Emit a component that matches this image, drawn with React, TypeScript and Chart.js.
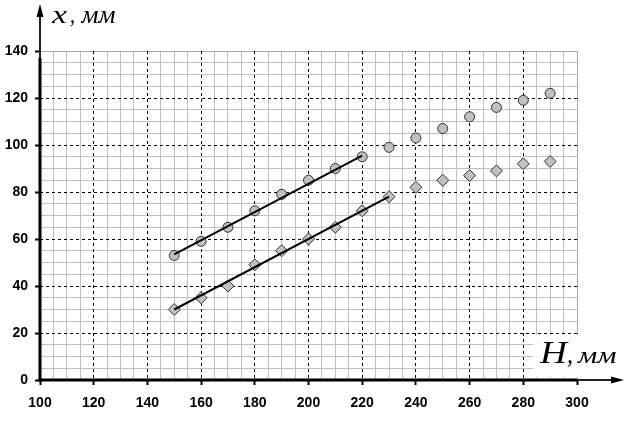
import React, { useEffect, useRef } from "react";
import { Chart, registerables } from "chart.js";

Chart.register(...registerables);

// ---- data ----
const H: number[] = [150, 160, 170, 180, 190, 200, 210, 220, 230, 240, 250, 260, 270, 280, 290];
const xCircles: number[] = [53, 59, 65, 72, 79, 85, 90, 95, 99, 103, 107, 112, 116, 119, 122];
const xDiamonds: number[] = [30, 35, 40, 49, 55, 60, 65, 72, 78, 82, 85, 87, 89, 92, 93];
const fitCirclesH: number[] = [150, 220];
const fitCirclesX: number[] = [53.5, 95.5];
const fitDiamondsH: number[] = [150, 230];
const fitDiamondsX: number[] = [30, 78];

const X_MIN = 100, X_MAX = 300, X_MAJOR = 20, X_MINOR = 5;
const Y_MIN = 0, Y_MAX = 140, Y_MAJOR = 20, Y_MINOR = 5;
const Y_LABEL_VAR = "x";
const X_LABEL_VAR = "H";
const UNIT = "мм";

const TICK_FONT = { family: "'Liberation Sans', Arial, sans-serif", size: 14, weight: "bold" as const };
const SERIF = "'Liberation Serif', 'Times New Roman', serif";

const zip = (a: number[], b: number[]) => a.map((v, i) => ({ x: v, y: b[i] }));

function fitText(ctx: CanvasRenderingContext2D, text: string, x: number, y: number, font: string, width: number) {
  ctx.save();
  ctx.font = font;
  const w = ctx.measureText(text).width;
  ctx.translate(x, y);
  ctx.scale(width / w, 1);
  ctx.fillText(text, 0, 0);
  ctx.restore();
}

const axesPlugin = {
  id: "axesPlugin",
  afterDraw(chart: any) {
    const { ctx, chartArea } = chart;
    const { left, right, top, bottom } = chartArea;
    ctx.save();
    // white box behind H label
    ctx.fillStyle = "#fff";
    ctx.fillRect(right - 44, bottom - 45, 60, 42);

    // y axis
    ctx.strokeStyle = "#000";
    ctx.lineWidth = 3;
    ctx.beginPath();
    ctx.moveTo(left, bottom + 1.5);
    ctx.lineTo(left, top + 7);
    ctx.stroke();
    ctx.strokeStyle = "#222";
    ctx.lineWidth = 2;
    ctx.beginPath();
    ctx.moveTo(left, top + 7);
    ctx.lineTo(left, 14);
    ctx.stroke();
    ctx.fillStyle = "#000";
    ctx.beginPath();
    ctx.moveTo(left, 4);
    ctx.lineTo(left - 3.5, 17);
    ctx.lineTo(left + 3.5, 17);
    ctx.closePath();
    ctx.fill();

    // x axis
    ctx.strokeStyle = "#000";
    ctx.lineWidth = 3;
    ctx.beginPath();
    ctx.moveTo(left - 1.5, bottom);
    ctx.lineTo(right, bottom);
    ctx.stroke();
    ctx.strokeStyle = "#222";
    ctx.lineWidth = 2;
    ctx.beginPath();
    ctx.moveTo(right, bottom);
    ctx.lineTo(612, bottom);
    ctx.stroke();
    ctx.beginPath();
    ctx.moveTo(624, bottom);
    ctx.lineTo(611, bottom - 3.5);
    ctx.lineTo(611, bottom + 3.5);
    ctx.closePath();
    ctx.fill();

    // axis titles
    ctx.fillStyle = "#000";
    ctx.textBaseline = "alphabetic";
    ctx.textAlign = "left";
    // y title: "x, мм"
    fitText(ctx, Y_LABEL_VAR, 52, 23, `italic 25px ${SERIF}`, 15);
    fitText(ctx, ",", 70, 23, `italic 25px ${SERIF}`, 5);
    fitText(ctx, UNIT, 81.5, 23, `italic 25px ${SERIF}`, 34);
    // x title: "H, мм"
    fitText(ctx, X_LABEL_VAR, 540, 363, `italic 31px ${SERIF}`, 27);
    fitText(ctx, ",", 567, 363, `italic 28px ${SERIF}`, 6);
    fitText(ctx, UNIT, 578, 363, `italic 24px ${SERIF}`, 38.5);
    ctx.restore();
  },
};

export default function App() {
  const ref = useRef<HTMLCanvasElement | null>(null);

  useEffect(() => {
    if (!ref.current) return;
    const majorColor = (edgeA: number, edgeB: number) => (c: any) => {
      const v = c.tick ? c.tick.value : null;
      return v === edgeA || v === edgeB ? "rgba(0,0,0,0)" : "#000";
    };
    const minorColor = (major: number, edgeA: number, edgeB: number) => (c: any) => {
      const v = c.tick ? c.tick.value : null;
      if (v === null) return "#c0c0c0";
      if (v === edgeA || v === edgeB) return "#a8a8a8";
      return Math.abs(v % major) < 1e-9 ? "rgba(0,0,0,0)" : "#c0c0c0";
    };

    const chart = new Chart(ref.current, {
      type: "scatter",
      data: {
        datasets: [
          {
            data: zip(fitCirclesH, fitCirclesX),
            showLine: true,
            borderColor: "#000",
            borderWidth: 2,
            pointRadius: 0,
          },
          {
            data: zip(fitDiamondsH, fitDiamondsX),
            showLine: true,
            borderColor: "#000",
            borderWidth: 2,
            pointRadius: 0,
          },
          {
            data: zip(H, xCircles),
            pointStyle: "circle",
            pointRadius: 5,
            backgroundColor: "#c0c0c0",
            borderColor: "#333",
            borderWidth: 1,
          },
          {
            data: zip(H, xDiamonds),
            pointStyle: "rectRot",
            pointRadius: 6,
            backgroundColor: "#c0c0c0",
            borderColor: "#333",
            borderWidth: 1,
          },
        ],
      },
      options: {
        responsive: false,
        animation: false,
        devicePixelRatio: 1,
        layout: { padding: { top: 51, right: 50, left: 0, bottom: 0 } },
        plugins: { legend: { display: false }, tooltip: { enabled: false } },
        scales: {
          x2: {
            type: "linear",
            axis: "x",
            position: "bottom",
            min: X_MIN,
            max: X_MAX,
            z: -1,
            afterFit: (s: any) => { s.height = 0; },
            ticks: { display: false, stepSize: X_MINOR, maxTicksLimit: 1000 },
            grid: { color: minorColor(X_MAJOR, X_MIN, X_MAX), lineWidth: 1, drawTicks: false },
            border: { display: false },
          },
          y2: {
            type: "linear",
            axis: "y",
            position: "left",
            min: Y_MIN,
            max: Y_MAX,
            z: -1,
            afterFit: (s: any) => { s.width = 0; },
            ticks: { display: false, stepSize: Y_MINOR, maxTicksLimit: 1000 },
            grid: { color: minorColor(Y_MAJOR, Y_MIN, Y_MAX), lineWidth: 1, drawTicks: false },
            border: { display: false },
          },
          x: {
            type: "linear",
            position: "bottom",
            min: X_MIN,
            max: X_MAX,
            afterFit: (s: any) => { s.height = 44; },
            ticks: {
              stepSize: X_MAJOR,
              autoSkip: false,
              maxRotation: 0,
              color: "#000",
              font: TICK_FONT,
              padding: 10,
            },
            grid: {
              color: majorColor(X_MIN, X_MAX),
              lineWidth: 1,
              drawTicks: true,
              tickLength: 5,
              tickColor: "#000",
              tickWidth: 2,
            },
            border: { display: false, dash: [3, 3] },
          },
          y: {
            type: "linear",
            position: "left",
            min: Y_MIN,
            max: Y_MAX,
            afterFit: (s: any) => { s.width = 40; },
            ticks: {
              stepSize: Y_MAJOR,
              autoSkip: false,
              color: "#000",
              font: TICK_FONT,
              padding: 7,
            },
            grid: {
              color: majorColor(Y_MIN, Y_MAX),
              lineWidth: 1,
              drawTicks: true,
              tickLength: 5,
              tickColor: "#000",
              tickWidth: 2,
            },
            border: { display: false, dash: [3, 3] },
          },
        },
      },
      plugins: [axesPlugin],
    } as any);
    return () => chart.destroy();
  }, []);

  return (
    <div style={{ position: "absolute", left: 0, top: 0, width: 627, height: 424, background: "#fff" }}>
      <canvas ref={ref} width={627} height={424} style={{ display: "block" }} />
    </div>
  );
}
